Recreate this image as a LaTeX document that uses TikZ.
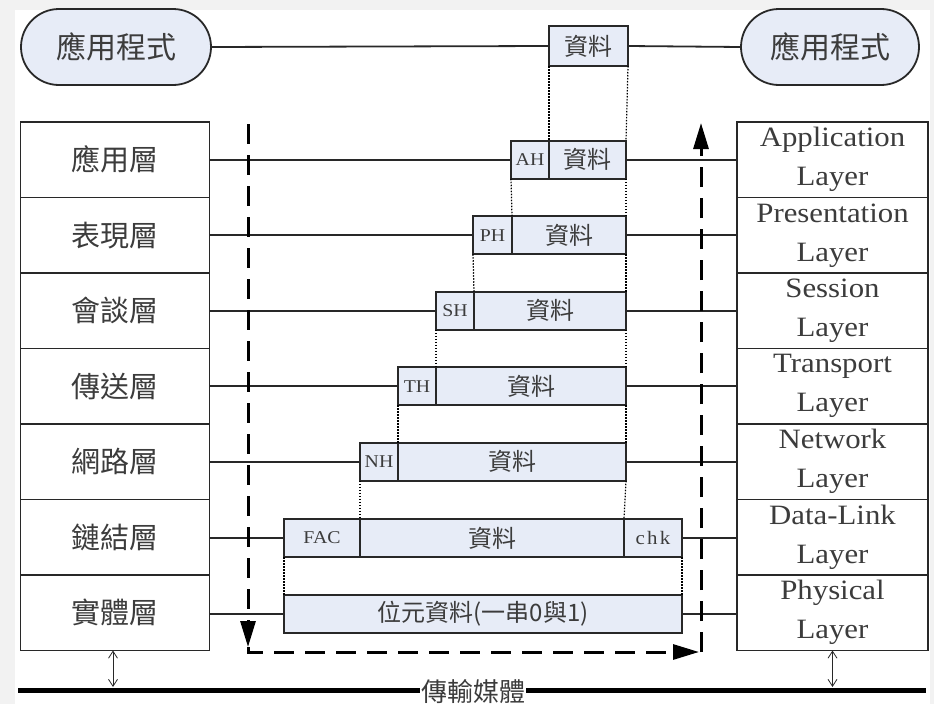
\documentclass[tikz,border=0pt]{standalone}
\usepackage{fontspec}
\setmainfont{Liberation Serif}
\newfontfamily\cjk{Noto Sans CJK TC}
\newfontfamily\enfont[FakeStretch=1.1]{Liberation Serif}
\usetikzlibrary{arrows.meta}
\definecolor{boxc}{RGB}{231,236,247}
\definecolor{linec}{RGB}{40,40,40}
\definecolor{txt}{RGB}{60,60,60}
\definecolor{framec}{RGB}{242,242,242}
\begin{document}
\begin{tikzpicture}[x=1pt,y=-1pt,
  every node/.style={text=txt},
  layer/.style={draw=linec,line width=1.8pt,fill=white,minimum width=189pt,minimum height=75.5pt,inner sep=0pt,outer sep=0pt},
  cjkL/.style={font=\cjk\fontsize{29}{32}\selectfont},
  enL/.style={font=\enfont\fontsize{28}{39}\selectfont,align=center},
  pk/.style={draw=linec,line width=1.8pt,fill=boxc,minimum height=38pt,inner sep=0pt,outer sep=0pt},
  pkd/.style={pk,font=\cjk\fontsize{24}{26}\selectfont},
  pkh/.style={pk,font=\enfont\fontsize{18}{20}\selectfont},
  pill/.style={draw=linec,line width=1.8pt,fill=boxc,rounded corners=38pt,minimum height=76pt,inner sep=0pt,outer sep=0pt,font=\cjk\fontsize{30}{33}\selectfont},
  conn/.style={draw=linec,line width=1.8pt},
  dotl/.style={draw=black,line width=1.2pt,dash pattern=on 1.5pt off 1.5pt},
  flow/.style={draw=black,line width=3pt,dash pattern=on 20pt off 11pt},
  tip/.style={-{Triangle[length=26pt,width=15pt]}},
  dbl/.style={draw=linec,line width=0.8pt,{Straight Barb[length=7pt,width=9pt]}-{Straight Barb[length=7pt,width=9pt]}}
]
\useasboundingbox (0,0) rectangle (934,704);
\fill[framec] (0,0) rectangle (934,704);
\fill[white] (15,10) rectangle (930,704);

% application pills
\node[pill,minimum width=190pt] (pillL) at (116,47) {應用程式};
\node[pill,minimum width=178pt] (pillR) at (830,47) {應用程式};
\node[pkd,minimum width=79pt,minimum height=40pt] (top) at (588.5,46) {資料};

% left stack
\node[layer,cjkL] (L1) at (115,159.75) {應用層};
\node[layer,cjkL] (L2) at (115,235.25) {表現層};
\node[layer,cjkL] (L3) at (115,310.75) {會談層};
\node[layer,cjkL] (L4) at (115,386.25) {傳送層};
\node[layer,cjkL] (L5) at (115,461.75) {網路層};
\node[layer,cjkL] (L6) at (115,537.25) {鏈結層};
\node[layer,cjkL] (L7) at (115,612.75) {實體層};

% right stack
\node[layer,enL,minimum width=191pt] (R1) at (832.5,159.75) {Application\\Layer};
\node[layer,enL,minimum width=191pt] (R2) at (832.5,235.25) {Presentation\\Layer};
\node[layer,enL,minimum width=191pt] (R3) at (832.5,310.75) {Session\\Layer};
\node[layer,enL,minimum width=191pt] (R4) at (832.5,386.25) {Transport\\Layer};
\node[layer,enL,minimum width=191pt] (R5) at (832.5,461.75) {Network\\Layer};
\node[layer,enL,minimum width=191pt] (R6) at (832.5,537.25) {Data-Link\\Layer};
\node[layer,enL,minimum width=191pt] (R7) at (832.5,612.75) {Physical\\Layer};

% packets
\node[pkh,minimum width=38pt] (ah) at (530,159.75) {AH};
\node[pkd,minimum width=77pt] (d1) at (587.5,159.75) {資料};
\node[pkh,minimum width=39pt] (ph) at (492.5,235.25) {PH};
\node[pkd,minimum width=114pt] (d2) at (569,235.25) {資料};
\node[pkh,minimum width=38pt] (sh) at (455,310.75) {SH};
\node[pkd,minimum width=152pt] (d3) at (550,310.75) {資料};
\node[pkh,minimum width=38pt] (th) at (417,386.25) {TH};
\node[pkd,minimum width=190pt] (d4) at (531,386.25) {資料};
\node[pkh,minimum width=38pt] (nh) at (379,461.75) {NH};
\node[pkd,minimum width=228pt] (d5) at (512,461.75) {資料};
\node[pkh,minimum width=76pt] (fac) at (322,538) {FAC};
\node[pkd,minimum width=264pt] (d6) at (492,538) {資料};
\node[pkh,minimum width=58pt,font=\enfont\fontsize{19}{20}\selectfont\addfontfeature{LetterSpace=12}] (chk) at (653,538) {chk};
\node[pkd,minimum width=398pt] (bits) at (483,614) {位元資料(一串0與1)};

% horizontal connectors
\draw[conn] (pillL.east) -- (top.west);
\draw[conn] (top.east) -- (pillR.west);
\draw[conn] (L1.east) -- (ah.west);  \draw[conn] (d1.east) -- (R1.west);
\draw[conn] (L2.east) -- (ph.west);  \draw[conn] (d2.east) -- (R2.west);
\draw[conn] (L3.east) -- (sh.west);  \draw[conn] (d3.east) -- (R3.west);
\draw[conn] (L4.east) -- (th.west);  \draw[conn] (d4.east) -- (R4.west);
\draw[conn] (L5.east) -- (nh.west);  \draw[conn] (d5.east) -- (R5.west);
\draw[conn] (L6.east |- fac.west) -- (fac.west);  \draw[conn] (chk.east) -- (R6.west |- chk.east);
\draw[conn] (L7.east |- bits.west) -- (bits.west);  \draw[conn] (bits.east) -- (R7.west |- bits.east);

% dotted encapsulation guides
\draw[dotl] (top.south west) -- (d1.north west);
\draw[dotl] (top.south east) -- (d1.north east);
\draw[dotl] (ah.south west) -- (d2.north west);
\draw[dotl] (d1.south east) -- (d2.north east);
\draw[dotl] (ph.south west) -- (d3.north west);
\draw[dotl] (d2.south east) -- (d3.north east);
\draw[dotl] (sh.south west) -- (d4.north west);
\draw[dotl] (d3.south east) -- (d4.north east);
\draw[dotl] (th.south west) -- (d5.north west);
\draw[dotl] (d4.south east) -- (d5.north east);
\draw[dotl] (nh.south west) -- (d6.north west);
\draw[dotl] (d5.south east) -- (d6.north east);
\draw[dotl] (fac.south west) -- (bits.north west);
\draw[dotl] (chk.south east) -- (bits.north east);

% data flow (dashed)
\coordinate (f1) at (248,124);
\coordinate (f2) at (248,647);
\coordinate (f3) at (248,652);
\coordinate (f4) at (699,652);
\coordinate (f5) at (701,652);
\coordinate (f6) at (701,123);
\draw[flow,tip] (f1) -- (f2);
\draw[flow,tip] (f2) -- (f3) -- (f4);
\draw[flow,tip] (f5) -- (f6);

% transmission medium
\coordinate (m1) at (18,690);
\coordinate (m2) at (926,690);
\draw[line width=5pt,black] (m1) -- (m2);
\node[fill=white,inner sep=1pt,font=\cjk\fontsize{26}{28}\selectfont] (medium) at (473,692) {傳輸媒體};
\draw[dbl] (L7.south -| 113,0) -- (113,687);
\draw[dbl] (R7.south) -- (R7.south |- 0,687);
\end{tikzpicture}
\end{document}
